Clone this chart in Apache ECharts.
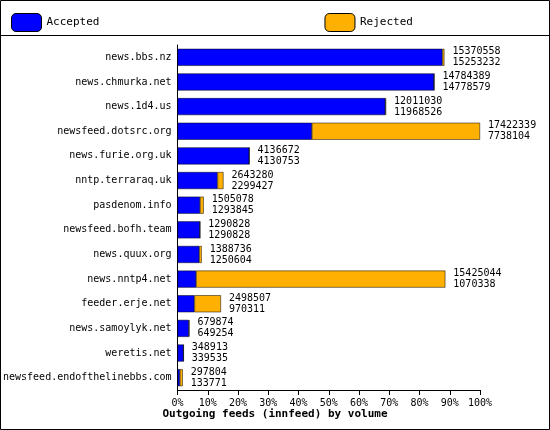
<!DOCTYPE html>
<html>
<head>
<meta charset="utf-8">
<script src="https://cdn.jsdelivr.net/npm/echarts@6/dist/echarts.min.js"></script>
<style>
  body { margin: 0; background: #fff; }
  #chart { width: 550px; height: 430px; }
</style>
</head>
<body>
<div id="chart"></div>
<script>
var categories = ["news.bbs.nz", "news.chmurka.net", "news.1d4.us", "newsfeed.dotsrc.org",
  "news.furie.org.uk", "nntp.terraraq.uk", "pasdenom.info", "newsfeed.bofh.team",
  "news.quux.org", "news.nntp4.net", "feeder.erje.net", "news.samoylyk.net",
  "weretis.net", "newsfeed.endofthelinebbs.com"];
var offered = [15370558, 14784389, 12011030, 17422339, 4136672, 2643280, 1505078, 1290828,
  1388736, 15425044, 2498507, 679874, 348913, 297804];
var accepted = [15253232, 14778579, 11968526, 7738104, 4130753, 2299427, 1293845, 1290828,
  1250604, 1070338, 970311, 649254, 339535, 133771];
var rejected = offered.map(function (v, i) { return v - accepted[i]; });
var maxVal = Math.max.apply(null, offered);

var font = 'DejaVu Sans Mono';
var chart = echarts.init(document.getElementById('chart'));
chart.setOption({
  animation: false,
  backgroundColor: '#fff',
  textStyle: { fontFamily: font },
  graphic: [
    { type: 'rect', shape: { x: 0.5, y: 0.5, width: 549, height: 429 }, style: { fill: 'none', stroke: '#000' } },
    { type: 'line', shape: { x1: 0, y1: 35.5, x2: 550, y2: 35.5 }, style: { stroke: '#000' } },
    { type: 'text', left: 'center', top: 409, style: { text: 'Outgoing feeds (innfeed) by volume', font: 'bold 11px ' + font, fill: '#000' } }
  ],
  legend: {
    top: 8, left: 6, itemGap: 225, itemWidth: 30, itemHeight: 18,
    textStyle: { fontFamily: font, fontSize: 11, color: '#000' },
    itemStyle: { borderColor: '#000', borderWidth: 1 },
    data: ['Accepted', 'Rejected']
  },
  grid: { left: 177, right: 70, top: 45, bottom: 40 },
  xAxis: {
    type: 'value', min: 0, max: maxVal, interval: maxVal / 10,
    axisLine: { show: true, lineStyle: { color: '#000' } },
    axisTick: { show: true, lineStyle: { color: '#000' } },
    splitLine: { show: false },
    axisLabel: { fontFamily: font, fontSize: 10, color: '#000',
      formatter: function (v) { return Math.round(v / maxVal * 100) + '%'; } }
  },
  yAxis: {
    type: 'category', data: categories, inverse: true,
    axisLine: { show: true, lineStyle: { color: '#000' } },
    axisTick: { show: false },
    axisLabel: { fontFamily: font, fontSize: 10, color: '#000', margin: 6 }
  },
  series: [
    { name: 'Accepted', type: 'bar', stack: 't', barWidth: 17, data: accepted,
      itemStyle: { color: '#0000ff', borderColor: '#000', borderWidth: 0.5 } },
    { name: 'Rejected', type: 'bar', stack: 't', barWidth: 17, data: rejected,
      itemStyle: { color: '#ffb000', borderColor: '#000', borderWidth: 0.5 },
      label: { show: true, position: 'right', distance: 8, fontFamily: font, fontSize: 10,
        color: '#000', lineHeight: 11,
        formatter: function (p) { return offered[p.dataIndex] + '\n' + accepted[p.dataIndex]; } } }
  ]
});
</script>
</body>
</html>
